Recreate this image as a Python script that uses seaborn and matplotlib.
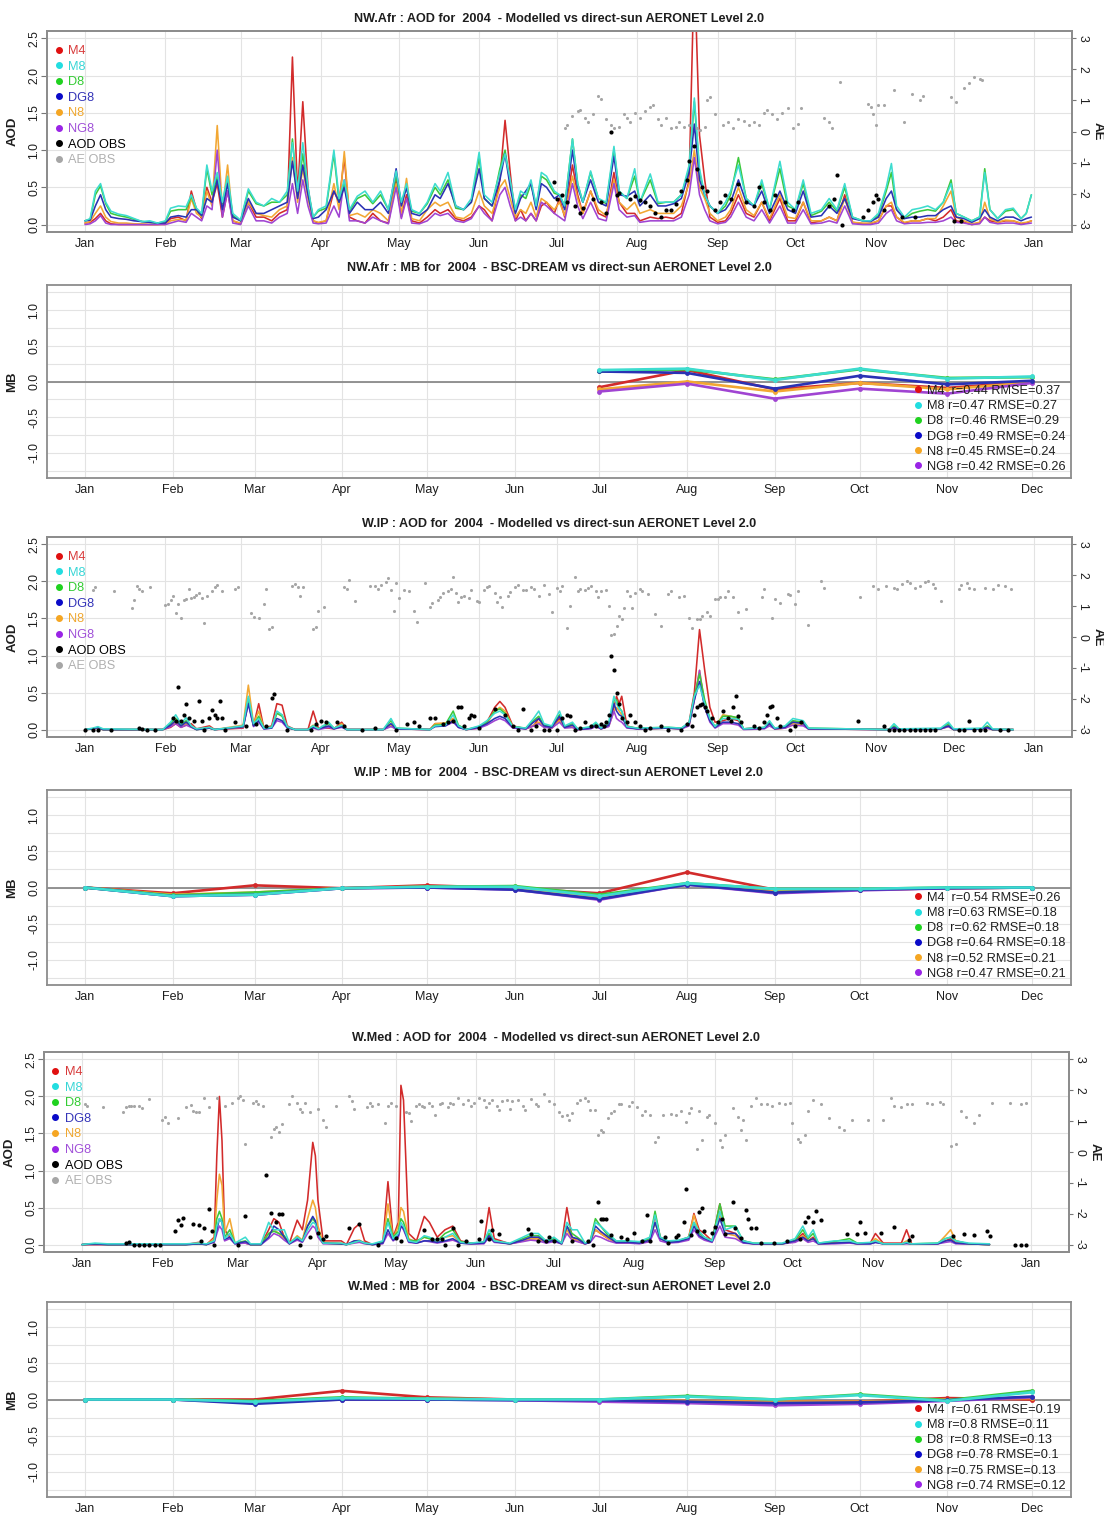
import matplotlib
matplotlib.use("Agg")
import matplotlib.pyplot as plt
from matplotlib.lines import Line2D
from matplotlib.ticker import FixedLocator
import numpy as np
import pandas as pd
import seaborn as sns

sns.set_theme(style="white")
plt.rcParams["font.family"] = ["Liberation Sans", "DejaVu Sans"]

YEAR = 2004
MODELS = ["M4", "M8", "D8", "DG8", "N8", "NG8"]
DRAW_ORDER = ["M4", "N8", "NG8", "D8", "DG8", "M8"]
LINE_COLORS = {"M4": "#d22b2b", "M8": "#3ddccf", "D8": "#3cc83c",
               "DG8": "#2a32b4", "N8": "#f2a733", "NG8": "#a044d2"}
DOT_COLORS = {"M4": "#e01010", "M8": "#22dde0", "D8": "#1fd21f",
              "DG8": "#0a0ac8", "N8": "#f5a623", "NG8": "#9a24e6"}
TEXT_COLORS = {"M4": "#d83a3a", "M8": "#39d6d6", "D8": "#33cc33",
               "DG8": "#3434b8", "N8": "#f0a830", "NG8": "#a050d8"}
MONTH_START = [0, 31, 60, 91, 121, 152, 182, 213, 244, 274, 305, 335, 366]
MONTH_NAMES = ["Jan", "Feb", "Mar", "Apr", "May", "Jun", "Jul", "Aug",
               "Sep", "Oct", "Nov", "Dec", "Jan"]

# ---------------- NW.Afr daily AOD ----------------
NWAFR_DAYS = [0, 2, 4, 6, 8, 10, 13, 16, 19, 22,
              25, 28, 31, 33, 36, 39, 41, 43, 45, 47,
              49, 51, 53, 55, 57, 60, 63, 66, 69, 72,
              75, 78, 80, 82, 84, 86, 88, 90, 93, 96,
              98, 100, 102, 105, 108, 111, 114, 117, 120, 122,
              124, 126, 129, 132, 135, 137, 140, 143, 146, 149,
              152, 154, 157, 160, 162, 164, 166, 168, 170, 172,
              174, 176, 178, 181, 183, 185, 188, 190, 192, 195,
              198, 201, 204, 206, 209, 212, 214, 218, 221, 224,
              227, 230, 233, 235, 237, 239, 241, 244, 247, 249,
              252, 255, 258, 261, 264, 268, 271, 274, 277, 280,
              284, 287, 290, 293, 296, 300, 303, 306, 309, 311,
              313, 316, 319, 322, 325, 328, 331, 334, 336, 339,
              342, 345, 347, 349, 352, 355, 358, 361, 363, 365]
NWAFR_M4 = [.02, .03, .08, .15, .05, .01, 0, 0, 0, 0,
            0, 0, .01, .08, .10, .05, .45, .20, .08, .50,
            .30, .55, .10, .45, .05, .01, .30, .10, .10, .05,
            .15, .20, 2.25, .40, 1.65, .50, .05, .02, .05, .45,
            .30, .90, .10, .05, .02, .15, .05, .02, .60, .10,
            .40, .05, .02, .10, .20, .15, .20, .08, .05, .10,
            .25, .20, .05, .60, 1.40, .70, .05, .20, .05, .15,
            .05, .25, .30, .15, .35, .10, .80, .40, .15, .45,
            .15, .10, .70, .30, .15, .15, .05, .10, .08, .10,
            .08, .15, .60, 3.50, 1.20, .60, .10, .03, .05, .15,
            .40, .15, .10, .30, .05, .35, .05, .05, .30, .02,
            .05, .10, .05, .40, .03, .01, .01, .05, .25, .25,
            .10, .02, .05, .05, .08, .05, .10, .20, .05, .03,
            0, .02, .10, .05, .03, .05, .05, .01, .02, .05]
NWAFR_M8 = [.05, .08, .45, .55, .30, .18, .14, .12, .08, .04,
            .05, .02, .05, .22, .25, .24, .40, .22, .15, .80,
            .45, .70, .30, .65, .15, .06, .48, .30, .25, .35,
            .30, .45, 1.10, .45, 1.10, .50, .10, .20, .25, 1.00,
            .35, .60, .20, .38, .45, .30, .45, .20, .72, .30,
            .55, .20, .15, .30, .55, .45, .70, .25, .20, .35,
            .97, .40, .30, .70, .95, .60, .20, .45, .40, .60,
            .25, .70, .65, .45, .40, .25, 1.15, .55, .30, .72,
            .35, .30, 1.05, .45, .35, .75, .30, .68, .30, .30,
            .30, .40, .80, 1.70, .75, .40, .25, .15, .30, .45,
            .80, .35, .25, .60, .20, .85, .30, .20, .60, .15,
            .20, .35, .20, .55, .10, .05, .05, .15, .50, .82,
            .25, .10, .20, .22, .25, .20, .30, .55, .15, .10,
            .05, .10, .70, .20, .08, .20, .22, .08, .15, .40]
NWAFR_D8 = [.05, .07, .40, .52, .28, .15, .12, .10, .07, .04,
            .03, .02, .04, .18, .20, .20, .38, .20, .12, .75,
            .40, .65, .28, .60, .12, .05, .45, .28, .25, .30,
            .30, .40, 1.15, .42, .95, .45, .10, .18, .22, .95,
            .30, .55, .18, .35, .40, .28, .40, .20, .65, .30,
            .50, .18, .15, .28, .50, .40, .60, .22, .20, .30,
            .90, .35, .25, .75, 1.00, .55, .20, .40, .35, .55,
            .25, .65, .60, .42, .40, .25, 1.15, .55, .30, .70,
            .35, .28, 1.00, .45, .35, .65, .30, .60, .28, .30,
            .30, .40, .75, 1.65, .70, .40, .25, .15, .25, .40,
            .90, .35, .25, .55, .20, .75, .25, .20, .55, .12,
            .18, .30, .18, .50, .10, .05, .05, .12, .45, .70,
            .20, .08, .15, .18, .20, .18, .30, .60, .15, .10,
            .05, .10, .75, .20, .08, .18, .20, .08, .15, .40]
NWAFR_DG8 = [.05, .06, .25, .40, .20, .10, .08, .07, .05, .04,
             .03, .02, .02, .10, .12, .10, .20, .20, .12, .35,
             .30, .60, .20, .55, .10, .05, .35, .15, .15, .20,
             .25, .30, .85, .35, .80, .40, .08, .10, .20, .45,
             .30, .50, .15, .30, .20, .20, .30, .15, .75, .25,
             .50, .15, .12, .20, .40, .35, .55, .25, .20, .30,
             .75, .35, .25, .60, .95, .50, .15, .35, .45, .55,
             .20, .55, .50, .35, .40, .20, 1.00, .50, .30, .60,
             .30, .25, .92, .40, .38, .45, .25, .40, .25, .25,
             .28, .35, .70, 1.35, .60, .40, .25, .15, .20, .30,
             .60, .30, .25, .45, .15, .45, .20, .15, .45, .10,
             .12, .25, .15, .35, .08, .05, .04, .10, .35, .45,
             .20, .08, .10, .10, .12, .12, .20, .25, .10, .08,
             .03, .08, .20, .10, .05, .10, .10, .05, .08, .10]
NWAFR_N8 = [.02, .04, .15, .25, .10, .04, .02, .02, .01, .01,
            0, 0, 0, .05, .07, .06, .35, .15, .10, .45,
            .25, 1.33, .20, .80, .05, .02, .30, .15, .12, .10,
            .20, .25, .90, .30, .75, .35, .05, .03, .05, .55,
            .20, .98, .12, .15, .10, .20, .15, .05, .55, .15,
            .62, .08, .05, .20, .30, .25, .30, .10, .08, .15,
            .45, .25, .15, .50, .60, .35, .10, .20, .15, .30,
            .10, .35, .30, .20, .30, .12, .65, .35, .15, .45,
            .20, .12, .60, .30, .20, .30, .15, .20, .15, .15,
            .15, .25, .55, 1.00, .50, .35, .15, .05, .10, .20,
            .50, .20, .12, .30, .08, .40, .10, .08, .30, .05,
            .05, .10, .05, .35, .03, .02, .02, .05, .25, .30,
            .10, .03, .05, .05, .08, .08, .25, .45, .10, .05,
            .01, .03, .30, .08, .03, .06, .05, .02, .03, .05]
NWAFR_NG8 = [0, .01, .05, .12, .02, 0, 0, 0, 0, 0,
             0, 0, 0, .02, .05, .03, .15, .10, .05, .25,
             .20, 1.00, .10, .45, .02, 0, .25, .05, .05, .02,
             .10, .15, .55, .15, .60, .25, .02, .01, .02, .25,
             .10, .60, .05, .05, .02, .10, .05, .01, .50, .08,
             .35, .02, .01, .05, .15, .12, .15, .05, .03, .08,
             .25, .15, .05, .40, .50, .25, .05, .10, .05, .15,
             .05, .30, .25, .15, .10, .05, .55, .25, .08, .30,
             .08, .05, .55, .20, .10, .12, .03, .05, .05, .05,
             .05, .10, .40, .90, .40, .20, .05, .01, .03, .10,
             .30, .10, .05, .20, .02, .25, .02, .02, .20, .01,
             .02, .05, .02, .25, .01, 0, 0, .02, .15, .20,
             .05, .01, .02, .02, .03, .03, .05, .10, .03, .02,
             0, .01, .10, .03, .01, .02, .02, 0, .01, .02]
NWAFR_AOD_OBS = [(181, .57), (182, .35), (184, .40), (186, .30), (189, .25), (191, .15),
                 (192, .22), (196, .35), (199, .30), (201, .15), (203, 1.25), (205, .40),
                 (206, .42), (210, .35), (212, .38), (214, .33), (216, .30), (218, .25),
                 (220, .15), (222, .10), (224, .20), (226, .20), (228, .28), (230, .45),
                 (232, .60), (233, .85), (235, 1.05), (236, .75), (238, .50), (240, .45),
                 (243, .20), (245, .30), (247, .40), (249, .35), (252, .55), (255, .30),
                 (258, .25), (260, .50), (262, .30), (264, .20), (266, .40), (270, .30),
                 (273, .20), (275, .30), (287, .25), (289, .35), (290, .66), (292, .00),
                 (300, .10), (302, .20), (304, .30), (305, .40), (306, .35), (308, .20),
                 (315, .10), (320, .10), (335, .05), (338, .05)]
NWAFR_AE_OBS = [(185, .10), (186, .20), (188, .50), (190, .65), (191, .70), (193, .45),
                (194, .30), (196, .55), (198, 1.15), (199, 1.05), (201, .40), (203, .20),
                (204, .10), (206, .15), (208, .55), (209, .45), (210, .30), (212, .60),
                (214, .45), (216, .65), (218, .80), (219, .85), (221, .40), (222, .20),
                (224, .45), (226, .10), (228, .15), (229, .30), (231, .15), (233, .20),
                (236, .10), (237, .05), (239, .15), (240, 1.00), (241, 1.10), (243, .55),
                (246, .20), (248, .30), (250, .10), (252, .40), (254, .35), (256, .20),
                (258, .30), (260, .20), (262, .60), (263, .70), (265, .55), (267, .40),
                (269, .60), (271, .75), (273, .10), (275, .25), (276, .75), (285, .45),
                (287, .30), (288, .10), (291, 1.60), (302, .90), (303, .80), (304, .55),
                (305, .20), (306, .85), (308, .85), (312, 1.35), (316, .30), (319, 1.20),
                (322, 1.00), (323, 1.15), (334, 1.10), (336, .95), (339, 1.40), (341, 1.55),
                (343, 1.75), (345, 1.70), (346, 1.65)]

# ---------------- W.IP daily AOD ----------------
WIP_DAYS = [0, 3, 5, 7, 30, 33, 35, 37, 39, 41,
            43, 48, 50, 61, 63, 65, 67, 69, 72, 74,
            76, 78, 81, 86, 88, 90, 94, 96, 99, 101,
            115, 118, 120, 133, 135, 139, 142, 144, 147, 152,
            155, 158, 160, 162, 165, 170, 173, 175, 177, 180,
            183, 185, 188, 190, 195, 197, 199, 202, 204, 205,
            206, 207, 209, 213, 225, 230, 233, 235, 237, 239,
            241, 243, 246, 249, 252, 254, 262, 264, 266, 270,
            273, 277, 279, 310, 312, 314, 330, 333, 335, 346,
            348, 350, 358]
WIP_M4 = [0, .01, .02, 0, 0, .03, .08, .03, .06, .08,
          .01, .05, 0, .02, .40, .05, .35, .02, .05, .35,
          .33, .05, 0, 0, .25, .02, .02, .01, .10, 0,
          0, .05, .01, 0, .08, .08, .15, .05, 0, .02,
          .10, .30, .38, .30, .05, .01, .05, .15, .05, .02,
          .15, .03, .03, 0, .02, .05, .01, .05, .30, .45,
          .35, .45, .05, .01, .02, .01, .10, .50, 1.35, .80,
          .30, .10, .12, .15, .12, .01, .02, .08, .01, .02,
          .10, .10, .01, 0, .02, 0, .01, .05, 0, .01,
          .02, 0, 0]
WIP_M8 = [0, .02, .04, .01, 0, .10, .20, .08, .16, .05,
          .01, .03, 0, .05, .45, .08, .15, .02, .03, .25,
          .20, .04, 0, 0, .05, .01, .10, .02, .06, 0,
          0, .15, .02, 0, .05, .06, .20, .05, 0, .05,
          .12, .22, .25, .20, .04, .02, .15, .25, .08, .05,
          .25, .05, .10, .01, .04, .10, .02, .10, .45, .35,
          .28, .25, .04, .02, .03, .02, .10, .45, .60, .35,
          .15, .04, .15, .15, .14, .01, .03, .12, .02, .05,
          .15, .12, .02, 0, .08, .01, .02, .10, .01, .02,
          .10, .01, 0]
WIP_D8 = [0, .01, .03, 0, 0, .08, .15, .06, .12, .04,
          0, .02, 0, .04, .42, .06, .18, .02, .03, .22,
          .18, .03, 0, 0, .05, .01, .08, .02, .05, 0,
          0, .12, .02, 0, .06, .07, .25, .06, 0, .04,
          .10, .25, .28, .22, .04, .02, .12, .18, .06, .04,
          .20, .04, .08, .01, .03, .08, .02, .08, .40, .40,
          .30, .25, .04, .02, .03, .02, .08, .45, .75, .40,
          .15, .04, .18, .18, .16, .01, .03, .10, .02, .04,
          .12, .10, .02, 0, .05, 0, .01, .08, 0, .01,
          .05, 0, 0]
WIP_DG8 = [0, .01, .03, 0, 0, .06, .12, .05, .10, .04,
           0, .02, 0, .04, .35, .05, .12, .01, .02, .15,
           .12, .03, 0, 0, .03, .01, .05, .01, .04, 0,
           0, .08, .01, 0, .04, .05, .12, .03, 0, .03,
           .08, .15, .18, .15, .03, .01, .10, .15, .05, .03,
           .18, .03, .06, 0, .02, .06, .01, .06, .35, .25,
           .20, .18, .03, .01, .02, .01, .08, .40, .65, .30,
           .12, .03, .10, .10, .08, .01, .02, .08, .01, .03,
           .10, .08, .01, 0, .03, 0, .01, .05, 0, .01,
           .03, 0, 0]
WIP_N8 = [0, .01, .02, 0, 0, .05, .10, .04, .08, .05,
          0, .03, 0, .06, .60, .08, .25, .02, .03, .22,
          .20, .03, 0, 0, .06, .01, .04, .01, .08, 0,
          0, .06, .01, 0, .08, .09, .15, .04, 0, .03,
          .08, .25, .30, .25, .04, .01, .06, .10, .04, .02,
          .12, .03, .04, 0, .02, .05, .01, .05, .25, .30,
          .25, .20, .03, .01, .02, .01, .06, .40, .80, .35,
          .12, .03, .20, .18, .15, .01, .02, .06, .01, .02,
          .08, .06, .01, 0, .02, 0, .01, .04, 0, .01,
          .02, 0, 0]
WIP_NG8 = [0, .01, .02, 0, 0, .04, .08, .03, .06, .03,
           0, .02, 0, .03, .35, .04, .10, .01, .02, .12,
           .10, .02, 0, 0, .02, 0, .03, .01, .03, 0,
           0, .04, .01, 0, .05, .05, .10, .03, 0, .02,
           .06, .12, .15, .12, .02, .01, .05, .08, .03, .02,
           .10, .02, .03, 0, .01, .04, .01, .04, .25, .15,
           .12, .10, .02, .01, .02, .01, .05, .40, .80, .30,
           .10, .02, .08, .08, .06, 0, .01, .05, .01, .02,
           .06, .05, .01, 0, .02, 0, .01, .04, 0, .01,
           .02, 0, 0]
WIP_AOD_OBS = [(0, 0), (3, 0), (5, 0), (10, 0), (21, .02), (22, .01), (24, 0), (27, 0),
               (34, .15), (35, .12), (36, .58), (37, .12), (38, .20), (39, .35), (40, .15),
               (42, .12), (44, .38), (45, .12), (46, 0), (48, .15), (49, .27), (50, .20),
               (51, .15), (52, .38), (53, .15), (54, 0), (58, .10), (62, .05), (66, .08),
               (70, .05), (72, .42), (73, .48), (78, 0), (87, 0), (89, .08), (91, .12),
               (93, .10), (97, .10), (100, .05), (107, 0), (112, .02), (120, 0), (124, .08),
               (127, .10), (129, .05), (133, .15), (135, .15), (138, .08), (140, .10),
               (142, .12), (144, .30), (145, .30), (146, .05), (148, .15), (149, .20),
               (150, .18), (152, .02), (158, .28), (162, .20), (165, .05), (167, 0),
               (169, .28), (172, 0), (174, .05), (177, 0), (179, 0), (182, 0), (184, .15),
               (186, .20), (187, .18), (189, 0), (191, .02), (193, .10), (195, .05),
               (197, .05), (199, .08), (200, .05), (201, .10), (202, .20), (203, 1.00),
               (204, .80), (205, .50), (206, .35), (207, .15), (209, .10), (210, .20),
               (212, .10), (214, .05), (216, 0), (218, .02), (222, .05), (225, 0),
               (230, 0), (232, .08), (234, .05), (235, .20), (236, .30), (237, .33),
               (238, .35), (239, .30), (240, .25), (242, .15), (244, .10), (246, .25),
               (248, .15), (249, .12), (250, .30), (251, .45), (252, .18), (253, .10),
               (258, .05), (260, .02), (262, .10), (263, .20), (264, .30), (265, .32),
               (267, .15), (268, .05), (272, 0), (274, .05), (276, .10), (298, .12),
               (308, .05), (310, 0), (312, 0), (314, 0), (316, 0), (318, 0), (320, 0),
               (322, 0), (324, 0), (326, 0), (328, 0), (337, 0), (339, 0), (341, .12),
               (343, 0), (345, 0), (347, 0), (353, 0), (356, 0)]
WIP_AE_OBS = [(3, 1.51), (4, 1.63), (11, 1.49), (18, .94), (19, 1.20), (20, 1.66), (21, 1.56),
              (22, 1.49), (25, 1.63), (31, 1.03), (32, 1.08), (33, 1.20), (34, 1.34), (35, .79),
              (36, 1.06), (37, .60), (38, 1.20), (39, 1.22), (40, 1.56), (41, 1.27), (42, 1.30),
              (43, 1.37), (44, 1.44), (45, 1.27), (46, .46), (47, 1.34), (49, 1.49), (50, 1.63),
              (51, 1.70), (53, 1.49), (58, 1.56), (59, 1.63), (64, .79), (65, .65), (67, .60),
              (69, 1.08), (70, 1.56), (71, .26), (72, .34), (80, 1.66), (81, 1.73), (82, 1.61),
              (83, 1.32), (84, 1.63), (88, .26), (89, .31), (90, .84), (92, .98), (100, 1.61),
              (101, 1.56), (102, 1.85), (104, 1.18), (110, 1.66), (112, 1.66), (113, 1.56),
              (114, 1.68), (116, 1.78), (117, 1.90), (118, 1.51), (119, .84), (120, 1.75),
              (121, 1.25), (123, 1.51), (125, 1.49), (127, .84), (128, .48), (131, 1.75),
              (133, .98), (134, 1.10), (136, 1.20), (137, 1.30), (138, 1.42), (140, 1.49),
              (141, 1.56), (142, 1.94), (143, 1.44), (144, 1.13), (145, 1.30), (146, 1.34),
              (148, 1.27), (149, 1.51), (151, 1.18), (152, 1.13), (154, 1.51), (155, 1.63),
              (156, 1.66), (158, 1.42), (159, 1.13), (160, 1.30), (161, .96), (163, 1.34),
              (164, 1.46), (166, 1.63), (167, 1.68), (169, 1.51), (170, 1.51), (172, 1.63),
              (173, 1.56), (175, 1.34), (177, 1.70), (179, 1.39), (180, .81), (182, 1.60),
              (183, 1.50), (184, 1.64), (186, .30), (187, 1.00), (189, 1.93), (190, 1.50),
              (191, 1.55), (193, 1.53), (194, 1.60), (195, 1.66), (197, 1.50), (198, 1.28),
              (199, 1.50), (201, 1.53), (202, 1.00), (203, .08), (204, .11), (205, .35),
              (206, .68), (207, .57), (208, .95), (209, 1.50), (210, 1.33), (211, .95),
              (212, 1.44), (214, 1.55), (215, 1.50), (217, 1.39), (220, .73), (222, .35),
              (225, 1.39), (226, 1.50), (229, 1.28), (231, 1.33), (233, .62), (234, .30),
              (236, .57), (237, .57), (238, .68), (240, .81), (241, .68), (243, 1.22),
              (244, 1.24), (245, 1.28), (247, 1.28), (248, 1.50), (250, 1.28), (252, .81),
              (253, .30), (255, .90), (261, 1.28), (262, 1.55), (265, .62), (266, 1.22),
              (268, 1.11), (271, 1.39), (272, 1.36), (274, 1.06), (275, 1.50), (279, .40),
              (284, 1.82), (285, 1.60), (299, 1.28), (304, 1.66), (306, 1.55), (309, 1.66),
              (312, 1.60), (313, 1.55), (315, 1.71), (317, 1.82), (318, 1.74), (320, 1.60),
              (322, 1.66), (324, 1.77), (325, 1.82), (327, 1.71), (328, 1.60), (330, 1.17),
              (337, 1.55), (338, 1.68), (340, 1.74), (341, 1.60), (343, 1.55), (347, 1.60),
              (350, 1.55), (352, 1.68), (355, 1.66), (357, 1.55)]

# ---------------- W.Med daily AOD ----------------
WMED_DAYS = [0, 5, 10, 40, 45, 48, 51, 52, 53, 54,
             55, 57, 59, 63, 65, 69, 72, 74, 76, 78,
             80, 83, 85, 87, 89, 90, 91, 93, 100, 102,
             105, 107, 109, 112, 116, 118, 120, 122, 123, 124,
             126, 129, 132, 134, 137, 140, 143, 146, 150, 155,
             157, 159, 165, 170, 173, 176, 179, 182, 185, 187,
             189, 191, 194, 196, 198, 200, 203, 206, 211, 215,
             219, 221, 223, 226, 230, 234, 236, 238, 240, 243,
             246, 248, 252, 255, 259, 270, 275, 278, 280, 282,
             284, 290, 296, 299, 304, 306, 309, 316, 318, 320,
             330, 333, 335, 337, 342, 350]
WMED_M4 = [0, 0, 0, 0, .03, 0, .10, 1.20, 2.00, 1.40,
           .20, .10, .02, .02, 0, 0, .20, .35, .30, .10,
           .02, .33, .20, .60, 1.38, 1.20, .60, .05, .05, 0,
           .22, .28, .05, 0, .02, .85, .10, .30, 2.15, 1.95,
           .15, .05, .38, .30, .10, .20, .25, .05, .02, .03,
           .50, .08, .01, .05, .08, .08, .03, .05, .02, .50,
           .10, .05, .01, .05, .20, .15, .08, .03, .02, .02,
           .05, .40, .10, .03, .05, .10, .42, .20, .15, .05,
           .55, .20, .15, .05, .01, .01, .05, .15, .05, .10,
           .01, .02, .03, .01, .02, .15, .02, .02, .20, .01,
           .01, .05, .08, .02, .01, 0]
WMED_M8 = [0, .02, .01, .01, .02, .01, .05, .25, .35, .30,
           .08, .15, .02, .10, .01, .01, .30, .20, .20, .20,
           .02, .10, .05, .20, .30, .28, .15, .02, .02, 0,
           .03, .05, .02, .01, .05, .30, .08, .15, .30, .25,
           .05, .03, .12, .10, .05, .10, .15, .03, .02, .04,
           .20, .05, .02, .10, .15, .15, .05, .10, .02, .30,
           .20, .20, .02, .05, .30, .25, .15, .05, .05, .04,
           .10, .40, .10, .05, .06, .10, .30, .18, .10, .05,
           .45, .20, .25, .05, .02, .02, .08, .25, .10, .20,
           .02, .05, .05, .02, .03, .05, .01, .01, .03, .01,
           .02, .08, .10, .05, .02, .01]
WMED_D8 = [0, .01, 0, 0, .01, 0, .05, .35, .45, .35,
           .10, .20, .02, .05, 0, 0, .15, .18, .15, .12,
           .02, .10, .05, .25, .35, .30, .15, .02, .01, 0,
           .03, .05, .02, 0, .03, .35, .10, .18, .35, .30,
           .06, .05, .10, .08, .05, .15, .20, .04, .02, .03,
           .15, .05, .01, .08, .12, .12, .04, .08, .02, .25,
           .15, .10, .02, .05, .35, .25, .12, .05, .04, .03,
           .08, .45, .10, .04, .05, .10, .30, .15, .10, .05,
           .55, .25, .25, .05, .02, .01, .06, .20, .08, .15,
           .02, .04, .08, .02, .02, .05, .01, .01, .02, .01,
           .02, .08, .10, .05, .01, 0]
WMED_DG8 = [0, .01, 0, 0, .01, 0, .04, .20, .35, .30,
            .07, .10, .01, .04, 0, 0, .10, .25, .20, .10,
            .01, .08, .04, .25, .38, .32, .15, .02, .01, 0,
            .05, .05, .02, 0, .02, .20, .06, .12, .25, .22,
            .04, .02, .05, .05, .03, .05, .08, .02, .01, .02,
            .12, .04, .01, .06, .10, .10, .03, .06, .01, .25,
            .10, .08, .01, .03, .25, .18, .10, .03, .03, .02,
            .06, .30, .08, .03, .04, .08, .25, .12, .08, .04,
            .35, .15, .15, .03, .01, .01, .05, .10, .05, .08,
            .01, .02, .03, .01, .01, .03, .01, .01, .02, .01,
            .01, .05, .06, .02, .01, 0]
WMED_N8 = [0, 0, 0, 0, .02, 0, .08, .60, .95, .80,
           .15, .35, .02, .03, 0, 0, .15, .20, .15, .08,
           .01, .12, .06, .35, .60, .50, .25, .03, .02, 0,
           .05, .06, .02, 0, .02, .55, .08, .25, .50, .45,
           .08, .03, .10, .08, .05, .10, .12, .03, .01, .02,
           .15, .05, .01, .05, .08, .08, .03, .05, .01, .20,
           .08, .05, .01, .04, .20, .15, .08, .03, .02, .02,
           .05, .30, .08, .03, .04, .10, .40, .15, .10, .04,
           .40, .15, .12, .03, .01, .01, .04, .12, .05, .08,
           .01, .02, .03, .01, .02, .08, .01, .01, .05, .01,
           .01, .12, .20, .05, .01, 0]
WMED_NG8 = [0, 0, 0, 0, .01, 0, .03, .15, .25, .20,
            .05, .08, .01, .02, 0, 0, .08, .15, .12, .06,
            .01, .06, .03, .15, .25, .22, .10, .01, .01, 0,
            .02, .03, .01, 0, .01, .15, .05, .10, .25, .20,
            .03, .02, .05, .04, .02, .04, .06, .02, .01, .01,
            .10, .03, .01, .04, .06, .05, .02, .04, .01, .15,
            .06, .04, .01, .03, .12, .10, .05, .02, .02, .01,
            .04, .20, .05, .02, .03, .06, .20, .10, .06, .03,
            .25, .10, .08, .02, .01, .01, .03, .08, .03, .05,
            .01, .01, .02, .01, .01, .03, .01, .01, .01, .01,
            .01, .03, .04, .01, .01, 0]
WMED_AOD_OBS = [(17, .02), (18, .03), (20, 0), (22, 0), (24, 0), (26, 0), (28, 0), (30, 0),
                (36, .18), (37, .33), (38, .26), (39, .36), (43, .28), (45, .26), (46, .05),
                (47, .23), (49, .48), (50, .18), (51, 0), (60, 0), (63, .38), (71, .94),
                (73, .43), (75, .30), (76, .41), (77, .41), (84, 0), (88, .10), (91, .15),
                (93, .08), (94, .11), (103, .22), (107, .28), (114, 0), (121, .09), (123, .05),
                (132, .20), (135, .07), (137, .07), (139, .07), (140, 0), (143, .23), (145, 0),
                (148, .05), (153, .07), (154, .32), (157, .07), (158, .20), (161, .14),
                (172, .21), (173, .14), (176, .05), (179, .05), (180, .10), (182, .05),
                (189, .05), (195, .05), (197, 0), (199, .58), (200, .34), (201, .35),
                (202, .34), (204, .13), (208, .10), (210, .07), (213, .15), (216, .05),
                (218, .40), (219, .05), (225, .10), (226, .02), (229, .10), (230, .13),
                (232, .31), (233, .75), (235, .13), (237, .18), (238, .44), (239, .50),
                (240, .19), (243, .16), (244, .24), (247, .35), (248, .14), (251, .58),
                (252, .23), (254, .09), (256, .47), (257, .35), (258, .23), (260, .23),
                (262, .02), (267, .02), (272, .05), (277, .08), (279, .30), (280, .37),
                (282, .31), (283, .45), (285, .33), (295, .14), (299, .14), (300, .31),
                (302, .15), (308, .15), (313, .24), (319, .06), (320, .11), (336, .11),
                (340, .14), (344, .13), (349, .18), (350, .11), (360, 0), (362, 0), (364, 0)]
WMED_AE_OBS = [(1, 1.55), (2, 1.50), (8, 1.45), (16, 1.30), (17, 1.45), (18, 1.50), (19, 1.50),
               (20, 1.48), (22, 1.48), (23, 1.42), (26, 1.73), (31, 1.05), (32, 1.15), (33, .95),
               (37, 1.10), (40, 1.45), (42, 1.52), (43, 1.33), (44, 1.30), (45, 1.30), (47, 1.75),
               (49, 1.45), (52, 1.75), (55, 1.50), (58, 1.60), (60, 1.75), (61, 1.80), (62, 1.70),
               (63, .25), (66, 1.60), (67, 1.65), (68, 1.55), (70, 1.50), (73, .50), (74, .75),
               (75, .80), (76, .65), (77, .90), (80, 1.55), (81, 1.80), (83, 1.60), (84, 1.40),
               (85, 1.30), (86, 1.60), (88, 1.30), (91, 1.40), (93, 1.05), (94, .80), (98, 1.50),
               (103, 1.80), (104, 1.65), (105, 1.40), (110, 1.45), (111, 1.60), (112, 1.50),
               (114, 1.55), (117, .95), (118, 1.50), (119, 1.60), (121, 1.50), (125, 1.30),
               (126, 1.25), (127, 1.00), (129, 1.50), (130, 1.55), (131, 1.50), (132, 1.45),
               (134, 1.60), (135, 1.50), (136, 1.20), (138, 1.55), (139, 1.60), (141, 1.45),
               (142, 1.60), (143, 1.55), (145, 1.75), (147, 1.55), (149, 1.70), (150, 1.50),
               (151, 1.60), (153, 1.75), (155, 1.68), (156, 1.45), (157, 1.60), (158, 1.70),
               (160, 1.50), (161, 1.35), (162, 1.65), (164, 1.68), (165, 1.40), (166, 1.65),
               (168, 1.70), (170, 1.50), (171, 1.35), (173, 1.72), (175, 1.55), (176, 1.48),
               (178, 1.87), (180, 1.65), (182, 1.54), (184, 1.30), (185, 1.18), (187, 1.20),
               (188, 1.04), (189, 1.26), (191, 1.59), (192, 1.67), (194, 1.76), (195, 1.65),
               (196, 1.37), (198, 1.37), (199, .54), (200, .70), (201, .65), (203, 1.10),
               (204, 1.26), (205, 1.32), (207, 1.54), (208, 1.56), (211, 1.48), (212, 1.63),
               (214, 1.45), (216, 1.20), (217, 1.32), (219, 1.20), (221, .32), (222, .49),
               (224, 1.20), (227, 1.22), (229, 1.20), (231, 1.32), (233, .98), (234, 1.26),
               (235, 1.43), (237, .10), (238, 1.32), (239, .38), (241, 1.15), (242, 1.20),
               (244, .93), (246, .38), (247, .15), (248, .54), (251, 1.43), (253, 1.15),
               (254, .70), (255, 1.04), (256, .38), (258, 1.48), (260, 1.76), (262, 1.54),
               (264, 1.54), (266, 1.48), (269, 1.59), (271, 1.57), (273, 1.59), (274, .93),
               (276, .43), (277, .32), (279, .54), (280, 1.32), (282, 1.70), (285, 1.54),
               (288, 1.10), (292, .82), (294, .70), (297, 1.04), (303, 1.04), (309, 1.04),
               (312, 1.76), (313, 1.48), (316, 1.45), (318, 1.54), (320, 1.56), (326, 1.59),
               (328, 1.54), (331, 1.63), (332, 1.54), (335, .20), (337, .26), (339, 1.34),
               (341, 1.15), (344, .93), (346, 1.20), (351, 1.59), (358, 1.59), (362, 1.54),
               (364, 1.59)]

# ---------------- monthly mean bias ----------------
MB_MONTHS = MONTH_START[:12]
NWAFR_MB_MONTHS = MONTH_START[6:12]
NWAFR_MB = {"M4": [-0.08, 0.16, -0.11, -0.02, -0.09, 0.00],
            "M8": [0.16, 0.18, 0.02, 0.18, 0.04, 0.07],
            "D8": [0.14, 0.17, 0.03, 0.17, 0.05, 0.06],
            "DG8": [0.14, 0.12, -0.10, 0.08, -0.04, 0.01],
            "N8": [-0.11, 0.00, -0.14, -0.02, -0.11, -0.01],
            "NG8": [-0.14, -0.03, -0.24, -0.10, -0.17, -0.02]}
WIP_MB = {"M4": [0.00, -0.08, 0.03, -0.01, 0.03, -0.01, -0.08, 0.21, -0.03, -0.03, -0.01, 0.00],
          "M8": [0.00, -0.12, -0.10, -0.01, 0.01, 0.01, -0.12, 0.06, -0.02, -0.02, 0.00, 0.00],
          "D8": [0.00, -0.11, -0.07, -0.01, 0.01, 0.02, -0.10, 0.06, -0.02, -0.02, 0.00, 0.00],
          "DG8": [0.00, -0.12, -0.10, -0.01, 0.00, -0.03, -0.16, 0.04, -0.07, -0.03, -0.01, 0.00],
          "N8": [0.00, -0.10, -0.07, -0.01, 0.01, -0.01, -0.13, 0.05, -0.05, -0.03, -0.01, 0.00],
          "NG8": [0.00, -0.12, -0.10, -0.01, 0.00, -0.03, -0.17, 0.04, -0.08, -0.04, -0.01, 0.00]}
WMED_MB = {"M4": [0.00, 0.00, 0.00, 0.12, 0.03, 0.00, -0.01, -0.02, -0.03, -0.03, 0.02, 0.00],
           "M8": [0.00, 0.00, -0.03, 0.02, 0.01, 0.00, 0.00, 0.04, 0.00, 0.06, -0.02, 0.10],
           "D8": [0.00, 0.00, -0.02, 0.03, 0.01, 0.00, 0.00, 0.05, 0.00, 0.07, -0.01, 0.12],
           "DG8": [0.00, 0.00, -0.06, 0.00, 0.00, -0.01, -0.01, -0.03, -0.05, -0.04, -0.01, 0.04],
           "N8": [0.00, 0.00, -0.03, 0.01, 0.01, 0.00, -0.01, -0.02, -0.03, -0.03, 0.00, 0.02],
           "NG8": [0.00, 0.00, -0.04, 0.00, 0.00, -0.01, -0.03, -0.05, -0.08, -0.06, -0.02, 0.03]}
NWAFR_R = [0.44, 0.47, 0.46, 0.49, 0.45, 0.42]
NWAFR_RMSE = [0.37, 0.27, 0.29, 0.24, 0.24, 0.26]
WIP_R = [0.54, 0.63, 0.62, 0.64, 0.52, 0.47]
WIP_RMSE = [0.26, 0.18, 0.18, 0.18, 0.21, 0.21]
WMED_R = [0.61, 0.8, 0.8, 0.78, 0.75, 0.74]
WMED_RMSE = [0.19, 0.11, 0.13, 0.1, 0.13, 0.12]

# ---------------- figure ----------------
W, H = 1104, 1515
fig = plt.figure(figsize=(W / 100, H / 100), dpi=100)
fig.patch.set_facecolor("white")

GRID = "#e3e3e3"
FRAME = "#8c8c8c"
TXT = "#1e1e1e"


def add_box(x0, y0, x1, y1):
    return fig.add_axes([x0 / W, 1 - y1 / H, (x1 - x0) / W, (y1 - y0) / H])


def frame(ax):
    for s in ax.spines.values():
        s.set_color(FRAME)
        s.set_linewidth(1.3)


def put_title(ax, text, y_px):
    bb = ax.get_position()
    fig.text(bb.x0 + bb.width / 2, 1 - y_px / H, text, ha="center", va="center",
             fontsize=9.1, fontweight="bold", color=TXT)


def aod_panel(box, region, title_y, days, series, obs, ae):
    ax = add_box(*box)
    ax.set_facecolor("white")
    ax.set_axisbelow(True)
    long = pd.concat([pd.DataFrame({"day": days, "aod": series[m], "model": m})
                      for m in DRAW_ORDER], ignore_index=True)
    sns.lineplot(data=long, x="day", y="aod", hue="model", hue_order=DRAW_ORDER,
                 palette=LINE_COLORS, estimator=None, sort=False, linewidth=1.15,
                 legend=False, ax=ax, zorder=2)
    od, ov = zip(*obs)
    sns.scatterplot(x=list(od), y=list(ov), color="black", s=9, linewidth=0,
                    ax=ax, zorder=4)
    ax.set_xlim(-14.65, 380.65)
    ax.set_ylim(-0.1, 2.6)
    ax.set_xticks(MONTH_START)
    ax.set_xticklabels(MONTH_NAMES)
    yt = [0, 0.5, 1.0, 1.5, 2.0, 2.5]
    ax.set_yticks(yt)
    ax.set_yticklabels([f"{v:.1f}" for v in yt], rotation=90, va="center")
    ax.grid(True, color=GRID, lw=0.8)
    ax.tick_params(axis="y", length=4, width=0.8, color="#777", pad=1, labelsize=8.8, labelcolor=TXT)
    ax.tick_params(axis="x", length=2, width=0.8, color="#777", pad=2, labelsize=9, labelcolor=TXT)
    ax.set_xlabel("")
    ax.set_ylabel("AOD", fontweight="bold", fontsize=9.5, color=TXT)
    ax.yaxis.set_label_coords(-0.028, 0.5)
    frame(ax)

    ax2 = ax.twinx()
    ad, av = zip(*ae)
    sns.scatterplot(x=list(ad), y=list(av), color="#a6a6a6", s=5, linewidth=0, ax=ax2)
    ax2.set_ylim(-3.24, 3.24)
    ax2.set_xlim(-14.65, 380.65)
    ax2.set_yticks(range(-3, 4))
    ax2.set_yticklabels([str(v) for v in range(-3, 4)], rotation=270, va="center")
    ax2.tick_params(axis="y", length=3, width=0.8, color="#777", pad=0, labelsize=8.8, labelcolor=TXT)
    ax2.set_ylabel("AE", rotation=270, fontweight="bold", fontsize=9.5, color=TXT, va="center")
    ax2.yaxis.set_label_coords(1.0255, 0.5)
    ax2.grid(False)
    frame(ax2)

    handles = [Line2D([], [], ls="", marker="o", markersize=4, color=DOT_COLORS[m]) for m in MODELS]
    handles += [Line2D([], [], ls="", marker="o", markersize=4, color="black"),
                Line2D([], [], ls="", marker="o", markersize=4, color="#a6a6a6")]
    labels = MODELS + ["AOD OBS", "AE OBS"]
    colors = [TEXT_COLORS[m] for m in MODELS] + ["black", "#b0b0b0"]
    ax2.legend(handles, labels, loc="upper left", bbox_to_anchor=(0.0, 0.955),
               borderaxespad=0, borderpad=0.4, frameon=False, handlelength=1.0,
               handletextpad=0.25, labelspacing=0.28, fontsize=9.2, labelcolor=colors)
    put_title(ax, f"{region} : AOD for  {YEAR}  - Modelled vs direct-sun AERONET Level 2.0", title_y)
    return ax


def mb_panel(box, region, title_y, months, mb, r_vals, rmse_vals):
    ax = add_box(*box)
    ax.set_facecolor("white")
    ax.set_axisbelow(True)
    ax.axhline(0, color="#8a8a8a", lw=1.3, zorder=1.5)
    long = pd.concat([pd.DataFrame({"day": months, "mb": mb[m], "model": m})
                      for m in DRAW_ORDER], ignore_index=True)
    sns.lineplot(data=long, x="day", y="mb", hue="model", hue_order=DRAW_ORDER,
                 palette=LINE_COLORS, estimator=None, sort=False, linewidth=1.9,
                 marker="o", markersize=3.5, markeredgewidth=0, legend=False, ax=ax, zorder=2)
    ax.set_xlim(-13.4, 348.8)
    ax.set_ylim(-1.35, 1.35)
    ax.set_xticks(MB_MONTHS)
    ax.set_xticklabels(MONTH_NAMES[:12])
    yt = [-1.0, -0.5, 0.0, 0.5, 1.0]
    ax.set_yticks(yt)
    ax.set_yticklabels([f"{v:.1f}" for v in yt], rotation=90, va="center")
    ax.yaxis.set_minor_locator(FixedLocator(np.arange(-1.25, 1.26, 0.25)))
    ax.grid(True, which="both", axis="y", color=GRID, lw=0.8)
    ax.grid(True, which="major", axis="x", color=GRID, lw=0.8)
    ax.tick_params(axis="y", which="major", length=4, width=0.8, color="#777", pad=1, labelsize=8.8, labelcolor=TXT)
    ax.tick_params(axis="y", which="minor", length=0)
    ax.tick_params(axis="x", length=2, width=0.8, color="#777", pad=2, labelsize=9, labelcolor=TXT)
    ax.set_xlabel("")
    ax.set_ylabel("MB", fontweight="bold", fontsize=9.5, color=TXT)
    ax.yaxis.set_label_coords(-0.028, 0.5)
    frame(ax)

    handles = [Line2D([], [], ls="", marker="o", markersize=4, color=DOT_COLORS[m]) for m in MODELS]
    labels = []
    for m, r, e in zip(MODELS, r_vals, rmse_vals):
        gap = "  " if m in ("M4", "D8") else " "
        labels.append(f"{m}{gap}r={r:g} RMSE={e:g}")
    ax.legend(handles, labels, loc="lower right", bbox_to_anchor=(1.0, 0.0),
              borderaxespad=0, borderpad=0.4, frameon=False, handlelength=1.0,
              handletextpad=0.25, labelspacing=0.25, fontsize=9.2, labelcolor=TXT)
    put_title(ax, f"{region} : MB for  {YEAR}  - BSC-DREAM vs direct-sun AERONET Level 2.0", title_y)
    return ax


NWAFR = {"M4": NWAFR_M4, "M8": NWAFR_M8, "D8": NWAFR_D8, "DG8": NWAFR_DG8, "N8": NWAFR_N8, "NG8": NWAFR_NG8}
WIP = {"M4": WIP_M4, "M8": WIP_M8, "D8": WIP_D8, "DG8": WIP_DG8, "N8": WIP_N8, "NG8": WIP_NG8}
WMED = {"M4": WMED_M4, "M8": WMED_M8, "D8": WMED_D8, "DG8": WMED_DG8, "N8": WMED_N8, "NG8": WMED_NG8}

aod_panel((47, 31, 1072, 232), "NW.Afr", 19, NWAFR_DAYS, NWAFR, NWAFR_AOD_OBS, NWAFR_AE_OBS)
mb_panel((47, 285, 1071, 478), "NW.Afr", 268, NWAFR_MB_MONTHS, NWAFR_MB, NWAFR_R, NWAFR_RMSE)
aod_panel((47, 537, 1072, 737), "W.IP", 524, WIP_DAYS, WIP, WIP_AOD_OBS, WIP_AE_OBS)
mb_panel((47, 790, 1071, 985), "W.IP", 773, MB_MONTHS, WIP_MB, WIP_R, WIP_RMSE)
aod_panel((44, 1052, 1069, 1252), "W.Med", 1038, WMED_DAYS, WMED, WMED_AOD_OBS, WMED_AE_OBS)
mb_panel((47, 1302, 1071, 1497), "W.Med", 1287, MB_MONTHS, WMED_MB, WMED_R, WMED_RMSE)

fig.savefig("out.png", dpi=100, facecolor="white")
